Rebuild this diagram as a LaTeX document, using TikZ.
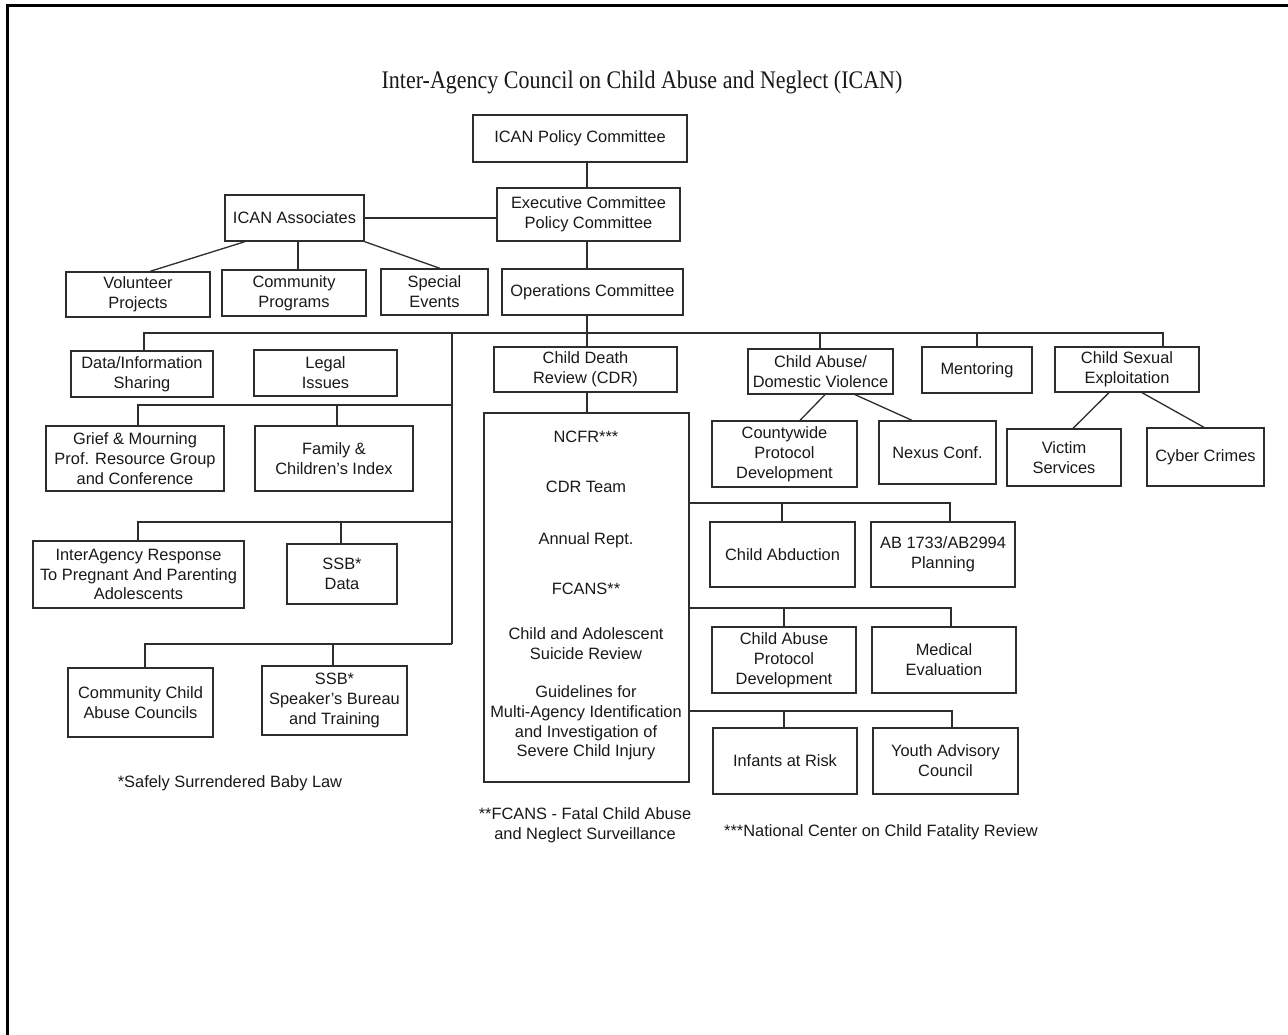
\documentclass[tikz,border=0pt]{standalone}
\usepackage{fontspec}
\usepackage{graphicx}
\setmainfont{Liberation Sans}
\newfontfamily\titlefont{Liberation Serif}
\definecolor{linec}{RGB}{45,45,45}
\definecolor{txtc}{RGB}{25,25,25}
% box from its corners: name, x1, y1, x2, y2, text
\newcommand\bx[6]{\node[box, minimum width={(#4-#2)*1pt}, minimum height={(#5-#3)*1pt}] (#1) at ({(#2+#4)/2},{(#3+#5)/2}) {#6};}
\begin{document}
\begin{tikzpicture}[x=1pt,y=-1pt,
  box/.style={draw=linec, line width=1.3pt, inner sep=0pt, align=center, text=txtc,
              font=\fontsize{16.4}{19.8}\selectfont},
  lbl/.style={inner sep=0pt, align=center, text=txtc, font=\fontsize{16.4}{19.8}\selectfont},
  conn/.style={draw=linec, line width=1.3pt}]
\useasboundingbox (0,0) rectangle (1288,1034);
\fill[white] (0,0) rectangle (1288,1034);
% page frame
\draw[line width=2.5pt, black] (1290,5.5) -- (7.5,5.5) -- (7.5,1036);

\node[font=\titlefont\fontsize{22}{26}\selectfont, text=txtc] (title) at (642,82)
  {\scalebox{1}[1.15]{Inter-Agency Council on Child Abuse and Neglect (ICAN)}};

% top of the hierarchy
\bx{pol}{473}{115}{687}{162}{ICAN Policy Committee}
\bx{exe}{497}{188}{680}{241}{Executive Committee\\Policy Committee}
\bx{ops}{502}{269}{683}{315}{Operations Committee}
\bx{assoc}{225}{195}{364}{241}{ICAN Associates}
\bx{vol}{66}{272}{210}{317}{Volunteer\\Projects}
\bx{comm}{222}{270}{366}{316}{Community\\Programs}
\bx{spec}{381}{269}{488}{315}{Special\\Events}

% committees under Operations
\bx{data}{71}{351}{213}{397}{Data/Information\\Sharing}
\bx{legal}{254}{350}{397}{396}{Legal\\Issues}
\bx{cdr}{494}{347}{677}{392}{Child Death\\Review (CDR)}
\bx{cadv}{748}{349}{893}{394}{Child Abuse/\\Domestic Violence}
\bx{ment}{922}{347}{1032}{393}{Mentoring}
\bx{cse}{1055}{347}{1199}{392}{Child Sexual\\Exploitation}

% left column
\bx{grief}{46}{426}{224}{491}{Grief \& Mourning\\Prof. Resource Group\\and Conference}
\bx{family}{255}{426}{413}{491}{Family \&\\Children's Index}
\bx{inter}{33}{541}{244}{608}{InterAgency Response\\To Pregnant And Parenting\\Adolescents}
\bx{ssbd}{287}{544}{397}{604}{SSB*\\Data}
\bx{ccac}{68}{668}{213}{737}{Community Child\\Abuse Councils}
\bx{ssbs}{262}{666}{407}{735}{SSB*\\Speaker's Bureau\\and Training}

% Child Death Review detail
\bx{big}{484}{413}{689}{782}{}
\node[lbl] (b1) at (586,437) {NCFR***};
\node[lbl] (b2) at (586,487) {CDR Team};
\node[lbl] (b3) at (586,540) {Annual Rept.};
\node[lbl] (b4) at (586,589) {FCANS**};
\node[lbl] (b5) at (586,644) {Child and Adolescent\\Suicide Review};
\node[lbl] (b6) at (586,723) {Guidelines for\\Multi-Agency Identification\\and Investigation of\\Severe Child Injury};

% right side
\bx{cwpd}{712}{421}{857}{487}{Countywide\\Protocol\\Development}
\bx{nexus}{879}{421}{996}{484}{Nexus Conf.}
\bx{vict}{1007}{429}{1121}{486}{Victim\\Services}
\bx{cyber}{1147}{428}{1264}{486}{Cyber Crimes}
\bx{abd}{710}{522}{855}{587}{Child Abduction}
\bx{ab17}{871}{522}{1015}{587}{AB 1733/AB2994\\Planning}
\bx{capd}{712}{627}{856}{693}{Child Abuse\\Protocol\\Development}
\bx{med}{872}{627}{1016}{693}{Medical\\Evaluation}
\bx{inf}{713}{728}{857}{794}{Infants at Risk}
\bx{youth}{873}{728}{1018}{794}{Youth Advisory\\Council}

% footnotes
\node[lbl] (fn1) at (230,783) {*Safely Surrendered Baby Law};
\node[lbl] (fn2) at (585,825) {**FCANS - Fatal Child Abuse\\and Neglect Surveillance};
\node[lbl] (fn3) at (881,832) {***National Center on Child Fatality Review};

% junction points
\coordinate (busL) at (144,333);
\coordinate (busR) at (1163,333);
\coordinate (spineB) at (452,644);
\coordinate (j1) at (452,405);
\coordinate (j2) at (452,522);
\coordinate (r1) at (950,503);
\coordinate (r2) at (951,608);
\coordinate (r3) at (952,711);

% spine through the top committees
\draw[conn] (pol.south -| 587,0) -- (exe.north -| 587,0);
\draw[conn] (exe.south -| 587,0) -- (ops.north -| 587,0);
\draw[conn] (ops.south -| 587,0) -- (cdr.north -| 587,0);
\draw[conn] (cdr.south -| 587,0) -- (big.north -| 587,0);
\draw[conn] (assoc.east) -- (exe.west |- assoc.east);
\draw[conn] (assoc.south -| 245,0) -- (vol.north -| 150,0);
\draw[conn] (assoc.south -| 298,0) -- (comm.north -| 298,0);
\draw[conn] (assoc.south east) -- (spec.north -| 440,0);

% main bus
\draw[conn] (data.north -| busL) -- (busL) -- (busR) -- (cse.north -| busR);
\draw[conn] (legal.north -| 323,0) -- (legal.north -| 323,0 |- busL);
\draw[conn] (cadv.north -| 820,0) -- (820,333);
\draw[conn] (ment.north) -- (ment.north |- busL);

% left spine and its branches
\draw[conn] (busL -| spineB) -- (spineB);
\draw[conn] (grief.north -| 138,0) -- (138,405) -- (j1);
\draw[conn] (family.north -| 337,0) -- (337,405);
\draw[conn] (inter.north -| 138,0) -- (138,522) -- (j2);
\draw[conn] (ssbd.north -| 341,0) -- (341,522);
\draw[conn] (ccac.north -| 145,0) -- (145,644) -- (spineB);
\draw[conn] (ssbs.north -| 333,0) -- (333,644);

% branches off the Child Death Review box
\draw[conn] (big.east |- r1) -- (r1) -- (ab17.north -| r1);
\draw[conn] (abd.north -| 782,0) -- (782,503);
\draw[conn] (big.east |- r2) -- (r2) -- (med.north -| r2);
\draw[conn] (capd.north -| 784,0) -- (784,608);
\draw[conn] (big.east |- r3) -- (r3) -- (youth.north -| r3);
\draw[conn] (inf.north -| 784,0) -- (784,711);

% diagonal links
\draw[conn] (cadv.south -| 825,0) -- (cwpd.north -| 800,0);
\draw[conn] (cadv.south -| 855,0) -- (nexus.north -| 912,0);
\draw[conn] (cse.south -| 1109,0) -- (vict.north -| 1073,0);
\draw[conn] (cse.south -| 1142,0) -- (cyber.north -| 1204,0);
\end{tikzpicture}
\end{document}
